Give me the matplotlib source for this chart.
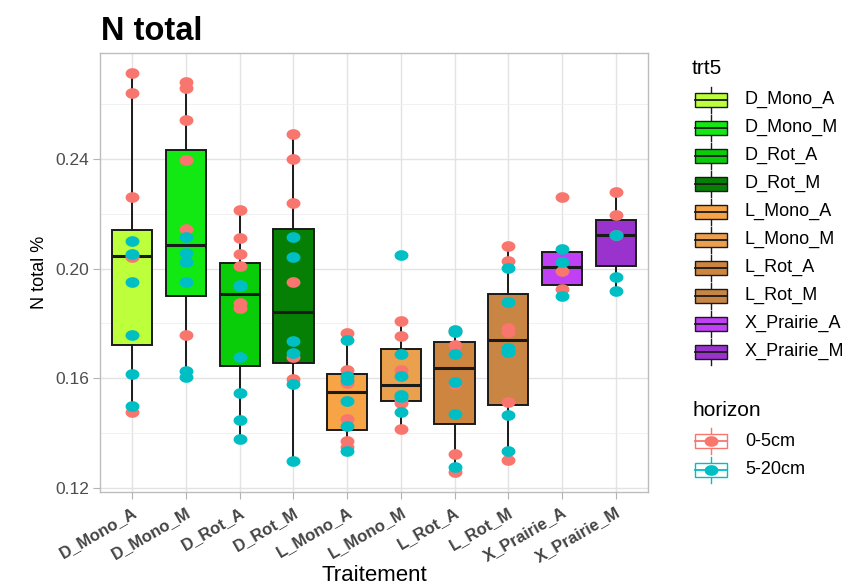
import numpy as np
import matplotlib
matplotlib.use("Agg")
import matplotlib.pyplot as plt
from matplotlib.path import Path
from matplotlib.patches import Rectangle

plt.rcParams['font.family'] = ['Liberation Sans', 'DejaVu Sans']

# treatments (trt5) and their fill colours
trt = ["D_Mono_A", "D_Mono_M", "D_Rot_A", "D_Rot_M", "L_Mono_A",
       "L_Mono_M", "L_Rot_A", "L_Rot_M", "X_Prairie_A", "X_Prairie_M"]
trt_colors = ["#BCFF3A", "#12E812", "#0ACD0A", "#058005", "#F6A445",
              "#EBA04E", "#CD853F", "#C98543", "#C040F5", "#9A32CD"]

# N total % per treatment, horizon 0-5cm
n_0_5 = [
    [0.2714, 0.2642, 0.2262, 0.2050, 0.2042, 0.1478],
    [0.2680, 0.2660, 0.2542, 0.2395, 0.2145, 0.1757],
    [0.2214, 0.2111, 0.2054, 0.2011, 0.1876, 0.1858],
    [0.2493, 0.2401, 0.2241, 0.1950, 0.1677, 0.1598],
    [0.1764, 0.1632, 0.1584, 0.1453, 0.1370, 0.1351],
    [0.1809, 0.1755, 0.1631, 0.1520, 0.1511, 0.1415],
    [0.1772, 0.1721, 0.1694, 0.1580, 0.1323, 0.1258],
    [0.2081, 0.2029, 0.1785, 0.1770, 0.1514, 0.1302],
    [0.2262, 0.1990, 0.1924],
    [0.2280, 0.2195, 0.2123],
]
# horizon 5-20cm
n_5_20 = [
    [0.2102, 0.2054, 0.1950, 0.1757, 0.1616, 0.1499],
    [0.2115, 0.2057, 0.2026, 0.1950, 0.1628, 0.1604],
    [0.1940, 0.1938, 0.1677, 0.1546, 0.1447, 0.1377],
    [0.2115, 0.2041, 0.1737, 0.1692, 0.1580, 0.1297],
    [0.1739, 0.1610, 0.1592, 0.1516, 0.1427, 0.1333],
    [0.2051, 0.1689, 0.1610, 0.1540, 0.1530, 0.1478],
    [0.1775, 0.1769, 0.1689, 0.1586, 0.1468, 0.1275],
    [0.2003, 0.1878, 0.1712, 0.1695, 0.1465, 0.1335],
    [0.2071, 0.2023, 0.1902],
    [0.2123, 0.1970, 0.1918],
]
horizons = ["0-5cm", "5-20cm"]
hz_colors = ["#F8766D", "#00BFC4"]

# slightly wide ellipse marker (the picture is a bit stretched)
t = np.linspace(0, 2 * np.pi, 60)
ell = Path(np.column_stack([1.3 * np.cos(t), np.sin(t)]), closed=True)

fig = plt.figure(figsize=(8.68, 5.87), dpi=100)
ax = fig.add_axes([100 / 868, 1 - 492 / 587, 548 / 868, 439 / 587])

x = np.arange(1, len(trt) + 1)
allv = [a + b for a, b in zip(n_0_5, n_5_20)]

bp = ax.boxplot(allv, positions=x, widths=0.75, patch_artist=True,
                showfliers=False, showcaps=False, whis=1.5,
                boxprops=dict(edgecolor="#1a1a1a", linewidth=1.4),
                whiskerprops=dict(color="#1a1a1a", linewidth=1.4),
                medianprops=dict(color="#1a1a1a", linewidth=2.2),
                zorder=2)
for patch, c in zip(bp['boxes'], trt_colors):
    patch.set_facecolor(c)

for vals, c in zip([n_0_5, n_5_20], hz_colors):
    xs = np.concatenate([[xi] * len(v) for xi, v in zip(x, vals)])
    ys = np.concatenate(vals)
    ax.scatter(xs, ys, s=100, marker=ell, color=c, linewidths=0, zorder=3)

# limits like ggplot expansion
lo = min(min(v) for v in allv)
hi = max(max(v) for v in allv)
pad = 0.05 * (hi - lo)
ax.set_ylim(lo - pad, hi + pad)
ax.set_xlim(0.4, len(trt) + 0.6)

ax.set_yticks([0.12, 0.16, 0.20, 0.24])
ax.set_yticklabels(["0.12", "0.16", "0.20", "0.24"])
ax.set_yticks([0.14, 0.18, 0.22, 0.26], minor=True)
ax.set_xticks(x)
ax.set_xticklabels(trt, rotation=30, ha="right", rotation_mode="anchor")
ax.tick_params(axis="both", which="major", colors="#B3B3B3", length=5, width=0.8,
               labelcolor="#4D4D4D", labelsize=12.5)
ax.tick_params(axis="y", which="minor", length=0)
ax.tick_params(axis="x", pad=4, labelsize=12)
ax.tick_params(axis="y", pad=3)
for lab in ax.get_xticklabels():
    lab.set_color("#444444")
    lab.set_fontweight("bold")
ax.grid(True, which="major", color="#E3E3E3", linewidth=1.0, zorder=0)
ax.grid(True, which="minor", axis="y", color="#EFEFEF", linewidth=0.6, zorder=0)
ax.set_axisbelow(True)
for s in ax.spines.values():
    s.set_color("#BDBDBD")
    s.set_linewidth(1.0)

ax.set_ylabel("N total %", fontsize=13, color="black", labelpad=5)
ax.set_xlabel("Traitement", fontsize=16, color="black", labelpad=0)
fig.text(101 / 868, 1 - 40 / 587, "N total", fontsize=23.5, fontweight="bold",
         va="baseline", ha="left")

# legends drawn in pixel space
leg = fig.add_axes([0, 0, 1, 1])
leg.set_xlim(0, 868)
leg.set_ylim(587, 0)
leg.axis("off")

leg.text(692, 68, "trt5", fontsize=15, va="center", ha="left")
for i, (name, c) in enumerate(zip(trt, trt_colors)):
    cy = 99.5 + 28 * i
    leg.plot([710.5, 710.5], [cy - 13, cy + 13], color="#1a1a1a", lw=1.0)
    leg.add_patch(Rectangle((694.5, cy - 7), 32, 14, facecolor=c,
                            edgecolor="#1a1a1a", lw=1.0, zorder=2))
    leg.plot([694.5, 726.5], [cy, cy], color="#1a1a1a", lw=1.3, zorder=3)
    leg.text(745, cy, name, fontsize=13, va="center", ha="left")

leg.text(692, 411, "horizon", fontsize=15, va="center", ha="left")
for i, (name, c) in enumerate(zip(horizons, hz_colors)):
    cy = 441 + 29 * i
    leg.plot([710.5, 710.5], [cy - 13, cy + 13], color=c, lw=1.0)
    leg.add_patch(Rectangle((694.5, cy - 7), 32, 14, facecolor="white",
                            edgecolor=c, lw=1.0, zorder=2))
    leg.plot([694.5, 726.5], [cy, cy], color=c, lw=1.3, zorder=3)
    leg.scatter([710.5], [cy], s=100, marker=ell, color=c, linewidths=0, zorder=4)
    leg.text(745, cy, name, fontsize=13, va="center", ha="left")

fig.savefig("out.png", dpi=100)
